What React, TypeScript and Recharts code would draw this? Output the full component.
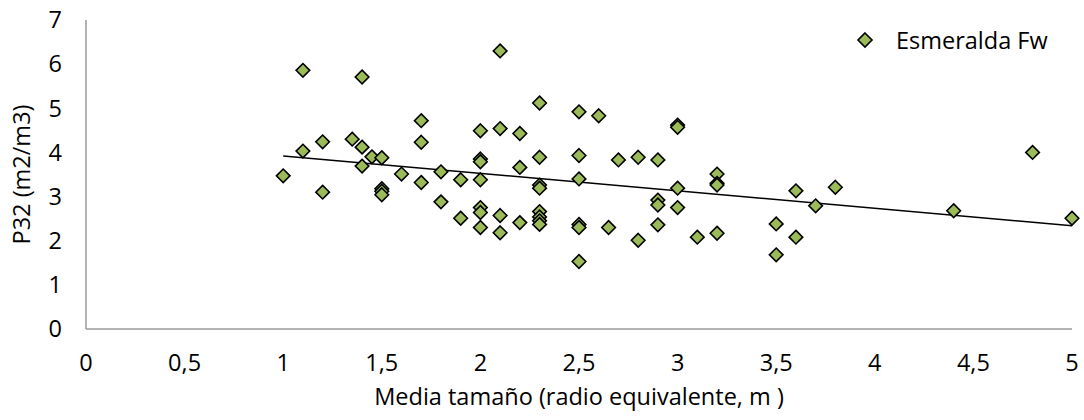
import {
  ScatterChart,
  Scatter,
  XAxis,
  YAxis,
  ReferenceLine,
  Legend,
} from "recharts";

// mean equivalent radius (m) and P32 (m2/m3), one entry per sample
const sizeMean = [
  1.0, 1.1, 1.1, 1.2, 1.2, 1.35, 1.4, 1.4, 1.4, 1.45, 1.5, 1.5, 1.5, 1.5,
  1.6, 1.7, 1.7, 1.7, 1.8, 1.8, 1.9, 1.9, 2.0, 2.0, 2.0, 2.0, 2.0, 2.0, 2.0,
  2.1, 2.1, 2.1, 2.1, 2.2, 2.2, 2.2, 2.3, 2.3, 2.3, 2.3, 2.3, 2.3, 2.3, 2.3,
  2.5, 2.5, 2.5, 2.5, 2.5, 2.5, 2.6, 2.65, 2.7, 2.8, 2.8, 2.9, 2.9, 2.9, 2.9,
  3.0, 3.0, 3.0, 3.0, 3.1, 3.2, 3.2, 3.2, 3.2, 3.5, 3.5, 3.6, 3.6, 3.7, 3.8,
  4.4, 4.8, 5.0,
];
const p32 = [
  3.47, 5.86, 4.03, 4.24, 3.1, 4.3, 5.71, 4.12, 3.69, 3.9, 3.88, 3.18, 3.12,
  3.04, 3.51, 4.72, 4.23, 3.32, 3.56, 2.88, 3.38, 2.51, 4.49, 3.85, 3.79, 3.38,
  2.75, 2.64, 2.3, 6.3, 4.54, 2.57, 2.18, 4.43, 3.66, 2.41, 5.12, 3.89, 3.26,
  3.19, 2.66, 2.54, 2.45, 2.37, 4.92, 3.93, 3.4, 2.37, 2.3, 1.53, 4.83, 2.3,
  3.83, 3.89, 2.01, 3.83, 2.92, 2.81, 2.36, 4.62, 4.57, 3.19, 2.75, 2.08, 3.51,
  3.3, 3.26, 2.17, 2.38, 1.68, 3.13, 2.08, 2.79, 3.21, 2.68, 4.0, 2.51,
];

// linear trend line end points
const trendX = [1, 5];
const trendY = [3.92, 2.34];

const xTicks = [0, 0.5, 1, 1.5, 2, 2.5, 3, 3.5, 4, 4.5, 5];
const yTicks = [0, 1, 2, 3, 4, 5, 6, 7];

const data = sizeMean.map((x, i) => ({ x, y: p32[i] }));

const FONT = "'Open Sans', sans-serif";
const FS = 23.5;
const GREEN = "#9BBB59";
const AXIS = "#9a9a9a";

const Diamond = (props: any) => {
  const { cx, cy, r = 6.8 } = props;
  return (
    <polygon
      points={`${cx},${cy - r} ${cx + r},${cy} ${cx},${cy + r} ${cx - r},${cy}`}
      fill={GREEN}
      stroke="#000"
      strokeWidth={1.6}
    />
  );
};

const LegendContent = () => (
  <div style={{ display: "flex", alignItems: "center", fontFamily: FONT }}>
    <svg width={18} height={18}>
      <Diamond cx={9} cy={9} r={7} />
    </svg>
    <span style={{ marginLeft: 22, fontSize: FS, color: "#000", lineHeight: "26px" }}>
      Esmeralda Fw
    </span>
  </div>
);

export default function App() {
  return (
    <div style={{ position: "absolute", left: 0, top: 0, background: "#fff" }}>
      <ScatterChart
        width={1084}
        height={420}
        margin={{ top: 20, right: 12, bottom: 0, left: 0 }}
      >
        <XAxis
          type="number"
          dataKey="x"
          domain={[0, 5]}
          ticks={xTicks}
          tickFormatter={(v: number) => String(v).replace(".", ",")}
          height={91}
          stroke={AXIS}
          strokeWidth={1.5}
          tickLine={false}
          tickSize={0}
          tickMargin={25}
          tick={{ fill: "#000", fontSize: FS, fontFamily: FONT }}
          label={{
            content: ({ viewBox }: any) => (
              <text
                x={viewBox.x + viewBox.width / 2}
                y={viewBox.y + 76}
                textAnchor="middle"
                fontSize={FS}
                fontFamily={FONT}
                fill="#000"
              >
                Media tamaño (radio equivalente, m )
              </text>
            ),
          }}
        />
        <YAxis
          type="number"
          dataKey="y"
          domain={[0, 7]}
          ticks={yTicks}
          width={86}
          stroke={AXIS}
          strokeWidth={1.5}
          tickLine={false}
          tickSize={0}
          tickMargin={24}
          tick={{ fill: "#000", fontSize: FS, fontFamily: FONT }}
          label={{
            content: ({ viewBox }: any) => {
              const cx = 21;
              const cy = viewBox.y + viewBox.height / 2;
              return (
                <text
                  x={cx}
                  y={cy}
                  transform={`rotate(-90, ${cx}, ${cy})`}
                  textAnchor="middle"
                  dominantBaseline="central"
                  fontSize={FS}
                  fontFamily={FONT}
                  fill="#000"
                >
                  P32 (m2/m3)
                </text>
              );
            },
          }}
        />
        <Legend
          layout="horizontal"
          align="center"
          verticalAlign="middle"
          wrapperStyle={{ top: 27, left: 856, width: "auto" }}
          content={<LegendContent />}
        />
        <ReferenceLine
          segment={[
            { x: trendX[0], y: trendY[0] },
            { x: trendX[1], y: trendY[1] },
          ]}
          stroke="#000"
          strokeWidth={1.5}
          ifOverflow="visible"
        />
        <Scatter
          name="Esmeralda Fw"
          data={data}
          shape={<Diamond />}
          isAnimationActive={false}
        />
      </ScatterChart>
    </div>
  );
}
